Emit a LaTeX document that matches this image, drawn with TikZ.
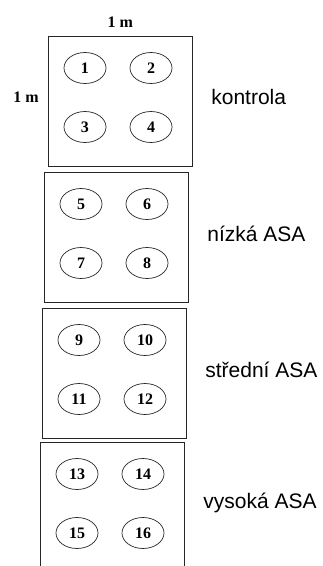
\documentclass[tikz,border=0pt]{standalone}
\usepackage{fontspec}
\setmainfont{Liberation Serif}
\newfontfamily\labelfont{Liberation Sans}
\usetikzlibrary{positioning, shapes.geometric}

\begin{document}
\begin{tikzpicture}[x=1pt, y=-1pt,
    plot/.style={draw=black!85, line width=0.8pt, minimum width=144pt, minimum height=130pt, inner sep=0pt, anchor=north west},
    pot/.style={ellipse, draw=black!85, line width=0.7pt, minimum width=42pt, minimum height=31pt, inner sep=0pt, font=\fontsize{16}{16}\selectfont\bfseries},
    treat/.style={font=\labelfont\fontsize{21}{21}\selectfont, anchor=west},
    dim/.style={font=\fontsize{16}{16}\selectfont\bfseries}]
    \useasboundingbox (0,0) rectangle (322,566);
    \clip (0,0) rectangle (322,566);
    \foreach \lx/\ty/\lab [count=\i] in
      {48/36/kontrola, 44/172/nízká ASA, 42/308/střední ASA, 40/442/vysoká ASA} {
      \node[plot] (box\i) at (\lx,\ty) {};
      \pgfmathtruncatemacro\na{4*\i-3}
      \pgfmathtruncatemacro\nb{4*\i-2}
      \pgfmathtruncatemacro\nc{4*\i-1}
      \pgfmathtruncatemacro\nd{4*\i}
      \node[pot] (pot\na) at (\lx+37,\ty+32) {\na};
      \node[pot] (pot\nb) at (\lx+103,\ty+32) {\nb};
      \node[pot] (pot\nc) at (\lx+37,\ty+91) {\nc};
      \node[pot] (pot\nd) at (\lx+103,\ty+91) {\nd};
      \node[treat] (lab\i) at ([xshift=15pt, yshift=4pt]box\i.east) {\lab};
    }
    % plot size
    \node[dim] (width) at ([yshift=14pt]box1.north) {1 m};
    \node[dim] (height) at ([xshift=-22pt, yshift=4pt]box1.west) {1 m};
\end{tikzpicture}
\end{document}
